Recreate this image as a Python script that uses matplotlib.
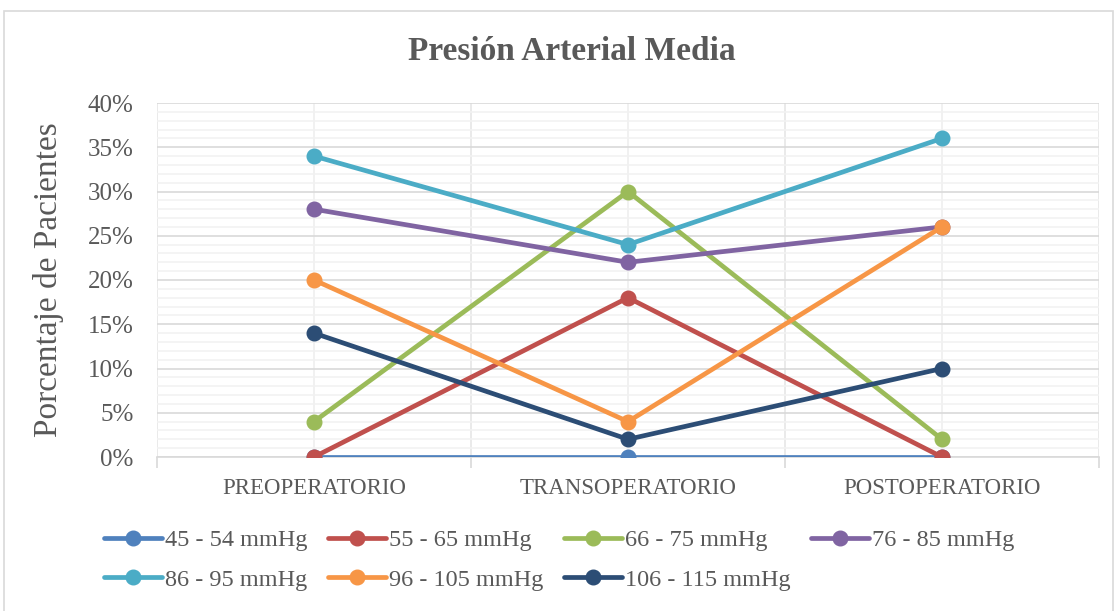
import matplotlib.pyplot as plt
from matplotlib.patches import Rectangle
from matplotlib.ticker import MultipleLocator, FixedLocator, FuncFormatter

# data (percent of patients)
periods = ["PREOPERATORIO", "TRANSOPERATORIO", "POSTOPERATORIO"]
labels = ["45 - 54 mmHg", "55 - 65 mmHg", "66 - 75 mmHg", "76 - 85 mmHg",
          "86 - 95 mmHg", "96 - 105 mmHg", "106 - 115 mmHg"]
p45_54 = [0, 0, 0]
p55_65 = [0, 18, 0]
p66_75 = [4, 30, 2]
p76_85 = [28, 22, 26]
p86_95 = [34, 24, 36]
p96_105 = [20, 4, 26]
p106_115 = [14, 2, 10]
series = [p45_54, p55_65, p66_75, p76_85, p86_95, p96_105, p106_115]
colors = ["#4F81BD", "#C0504D", "#9BBB59", "#8064A2",
          "#4BACC6", "#F79646", "#2C4D75"]

txt = "#595959"
plt.rcParams['font.family'] = ['Liberation Serif', 'DejaVu Serif']

fig = plt.figure(figsize=(11.18, 6.11), dpi=100)
ax = fig.add_axes([157 / 1118, 1 - 457 / 611, (1099 - 157) / 1118, (457 - 103) / 611])

# chart area border
fig.patches.append(Rectangle((4 / 1118, -0.01), 1109 / 1118, 1 - 11 / 611 + 0.01,
                             transform=fig.transFigure, fill=False,
                             edgecolor="#D9D9D9", lw=1.2))

x = list(range(len(periods)))
handles = []
for vals, lab, c in zip(series, labels, colors):
    h, = ax.plot(x, vals, color=c, lw=3.4, marker="o", ms=10.5,
                 solid_capstyle="round", label=lab, zorder=3)
    handles.append(h)

ax.set_xlim(-0.5, 2.5)
ax.set_ylim(0, 40)
ax.yaxis.set_major_locator(MultipleLocator(5))
ax.yaxis.set_minor_locator(MultipleLocator(1))
ax.yaxis.set_major_formatter(FuncFormatter(lambda v, p: "%d%%" % v))
ax.xaxis.set_major_locator(FixedLocator([-0.5, 0.5, 1.5, 2.5]))
ax.xaxis.set_minor_locator(FixedLocator(x))
ax.xaxis.set_major_formatter(FuncFormatter(lambda v, p: ""))
ax.xaxis.set_minor_formatter(FuncFormatter(lambda v, p: periods[int(round(v))]))

ax.grid(which="major", axis="y", color="#D9D9D9", lw=1.2, zorder=0)
ax.grid(which="minor", axis="y", color="#F2F2F2", lw=1.2, zorder=0)
ax.grid(which="major", axis="x", color="#E6E6E6", lw=1.2, zorder=0)
ax.grid(which="minor", axis="x", color="#EFEFEF", lw=1.2, zorder=0)
ax.set_axisbelow(True)

for s in ["top", "right", "left"]:
    ax.spines[s].set_visible(False)
ax.spines["bottom"].set_color("#D9D9D9")
ax.spines["bottom"].set_linewidth(1.2)

ax.tick_params(axis="y", which="both", length=0, labelsize=18, labelcolor=txt, pad=17)
ax.tick_params(axis="x", which="major", length=8, width=1.2, color="#D9D9D9")
ax.tick_params(axis="x", which="minor", length=0, labelsize=16.5, labelcolor=txt, pad=15)

ax.set_ylabel("Porcentaje de Pacientes", fontsize=24, color=txt, labelpad=17)
fig.text(572 / 1118, 1 - 52 / 611, "Presión Arterial Media", ha="center", va="center",
         fontsize=24, fontweight="bold", color=txt)

order = [0, 4, 1, 5, 2, 6, 3]
fig.legend([handles[i] for i in order], [labels[i] for i in order],
           loc="center", bbox_to_anchor=(559 / 1118, 1 - 560 / 611), ncol=4,
           frameon=False, fontsize=17.5, labelcolor=txt, handlelength=2.4,
           handletextpad=0.1, columnspacing=0.85, labelspacing=0.72)

fig.savefig("out.png", dpi=100)
